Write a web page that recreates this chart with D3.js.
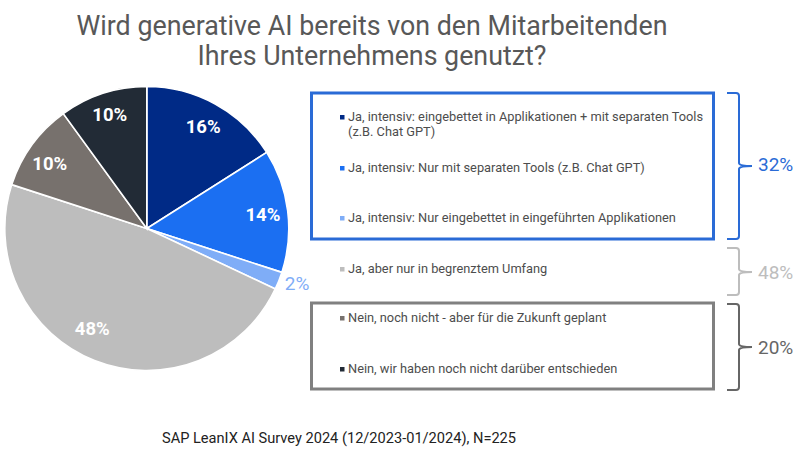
<!DOCTYPE html>
<html>
<head>
<meta charset="utf-8">
<script src="https://cdn.jsdelivr.net/npm/d3@7"></script>
<style>
  html, body { margin: 0; padding: 0; background: #fff; }
  text { font-family: Roboto, sans-serif; }
</style>
</head>
<body>
<svg width="800" height="450"></svg>
<script>
// Chart values
const titleLines = ["Wird generative AI bereits von den Mitarbeitenden", "Ihres Unternehmens genutzt?"];
const sliceValues = [16, 14, 2, 48, 10, 10];
const sliceColors = ["#002a86", "#1b6ff2", "#7fadf7", "#bdbdbd", "#77716d", "#222b36"];
const legendLabels = [
    ["Ja, intensiv: eingebettet in Applikationen + mit separaten Tools", "(z.B. Chat GPT)"],
    ["Ja, intensiv: Nur mit separaten Tools (z.B. Chat GPT)"],
    ["Ja, intensiv: Nur eingebettet in eingeführten Applikationen"],
    ["Ja, aber nur in begrenztem Umfang"],
    ["Nein, noch nicht - aber für die Zukunft geplant"],
    ["Nein, wir haben noch nicht darüber entschieden"]
];
const groupLabels = ["32%", "48%", "20%"];
const groupColors = ["#2a6bd6", "#bdbdbd", "#666666"];
const footnote = "SAP LeanIX AI Survey 2024 (12/2023-01/2024), N=225";

const svg = d3.select("svg");
const deg = Math.PI / 180;

// Title
svg.append("g").selectAll("text")
    .data(titleLines)
    .join("text")
    .attr("x", 372)
    .attr("y", (d, i) => 35 + i * 30)
    .attr("text-anchor", "middle")
    .attr("fill", "#585858")
    .style("font-size", "26.8px")
    .text(d => d);

// Pie
const pieX = 146.8, pieY = 228.5, radius = 142;
const pie = d3.pie().sort(null).value(d => d);
const arc = d3.arc().innerRadius(0).outerRadius(radius);
const slices = pie(sliceValues);

const pieG = svg.append("g").attr("transform", `translate(${pieX},${pieY})`);
pieG.selectAll("path")
    .data(slices)
    .join("path")
    .attr("d", arc)
    .attr("fill", (d, i) => sliceColors[i])
    .attr("stroke", "#fff")
    .attr("stroke-width", 1.6);

// Slice labels: radius and angle shift read per slice
const labelRadius = [117, 117, 160, 114, 117, 120];
const labelShift = [0, 0, -1.5, 7, -2, 0];
pieG.selectAll("text")
    .data(slices)
    .join("text")
    .attr("x", (d, i) => labelRadius[i] * Math.sin((d.startAngle + d.endAngle) / 2 + labelShift[i] * deg))
    .attr("y", (d, i) => -labelRadius[i] * Math.cos((d.startAngle + d.endAngle) / 2 + labelShift[i] * deg))
    .attr("dy", "0.36em")
    .attr("text-anchor", "middle")
    .attr("fill", (d, i) => i === 2 ? sliceColors[2] : "#fff")
    .style("font-size", (d, i) => i === 2 ? "19px" : "18.5px")
    .style("font-weight", (d, i) => i === 2 ? 400 : 700)
    .text(d => d.value + "%");

// Frames around the first and last group
const frames = [
    { y0: 93, y1: 239, color: groupColors[0] },
    { y0: 303, y1: 389, color: "#808080" }
];
svg.append("g").selectAll("rect")
    .data(frames)
    .join("rect")
    .attr("x", 311.5)
    .attr("y", d => d.y0)
    .attr("width", 402)
    .attr("height", d => d.y1 - d.y0)
    .attr("fill", "none")
    .attr("stroke", d => d.color)
    .attr("stroke-width", 3);

// Legend rows
const rowY = [117, 168, 218, 269, 318, 369];
const legend = svg.append("g").selectAll("g")
    .data(legendLabels)
    .join("g")
    .attr("transform", (d, i) => `translate(0,${rowY[i]})`);

legend.append("rect")
    .attr("x", 340)
    .attr("y", -2)
    .attr("width", 4.5)
    .attr("height", 4.5)
    .attr("fill", (d, i) => sliceColors[i]);

legend.selectAll("text")
    .data(d => d)
    .join("text")
    .attr("x", 348)
    .attr("y", (d, i) => i * 15)
    .attr("dy", "0.34em")
    .attr("fill", "#4d4d4d")
    .style("font-size", "12.8px")
    .text(d => d);

// Curly brackets with the group totals
const brackets = [
    { y0: 93, y1: 239, tip: 166 },
    { y0: 248, y1: 295, tip: 272 },
    { y0: 304, y1: 390, tip: 347 }
];
const bracketPath = b => {
    const x0 = 727, x1 = 739, x2 = 752, r = 3;
    return `M${x0},${b.y0}H${x1 - r}Q${x1},${b.y0} ${x1},${b.y0 + r}`
        + `V${b.tip - r}Q${x1},${b.tip} ${x2},${b.tip}`
        + `Q${x1},${b.tip} ${x1},${b.tip + r}`
        + `V${b.y1 - r}Q${x1},${b.y1} ${x1 - r},${b.y1}H${x0}`;
};
svg.append("g").selectAll("path")
    .data(brackets)
    .join("path")
    .attr("d", bracketPath)
    .attr("fill", "none")
    .attr("stroke", (d, i) => groupColors[i])
    .attr("stroke-width", 2);

svg.append("g").selectAll("text")
    .data(groupLabels)
    .join("text")
    .attr("x", 758)
    .attr("y", (d, i) => brackets[i].tip - (i === 0 ? 2 : 0))
    .attr("dy", "0.36em")
    .attr("fill", (d, i) => groupColors[i])
    .style("font-size", "19px")
    .text(d => d);

// Source line
svg.append("text")
    .attr("x", 162)
    .attr("y", 443)
    .attr("fill", "#222")
    .style("font-size", "14.6px")
    .text(footnote);
</script>
</body>
</html>
